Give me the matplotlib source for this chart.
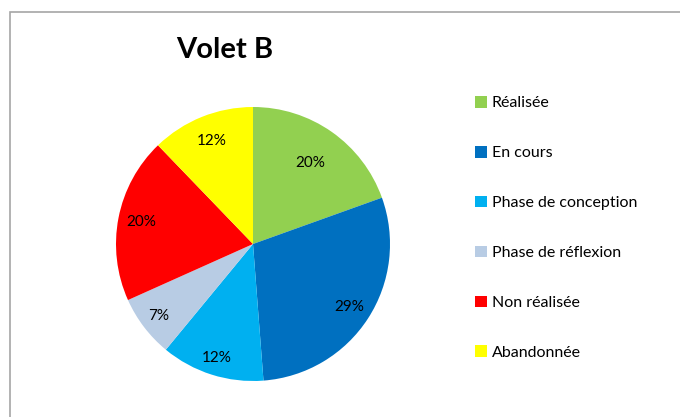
'''
Pie chart of the state of the Volet B projects
'''
import matplotlib
matplotlib.use('Agg')
from matplotlib import pyplot as plt
from matplotlib.patches import Rectangle
import numpy as np

categories = ['Réalisée', 'En cours', 'Phase de conception',
              'Phase de réflexion', 'Non réalisée', 'Abandonnée']
counts = [8, 12, 5, 3, 8, 5]
colors = ['#92D050', '#0070C0', '#00B0F0', '#B8CCE4', '#FF0000', '#FFFF00']
title = 'Volet B'

# distance of each percentage label from the centre (fraction of radius)
lab_dist = [0.72, 0.84, 0.87, 0.87, 0.83, 0.81]

plt.rcParams['font.family'] = ['Lato', 'DejaVu Sans']

W, H = 680, 417
fig = plt.figure(figsize=(W/100, H/100), dpi=100)
fig.patch.set_facecolor('white')

# chart frame (only left and top edges visible)
fig.patches.append(Rectangle((9.5/W, -0.2), 1.0, 1.2 - 12/H,
                             transform=fig.transFigure, fill=False,
                             edgecolor='#A6A6A6', linewidth=1.2))

cx, cy, r = 253, 417 - 244, 137
ax = fig.add_axes([(cx - r)/W, (cy - r)/H, 2*r/W, 2*r/H])
wedges, texts, autotexts = ax.pie(counts, colors=colors, startangle=90,
                                  counterclock=False, autopct='%.0f%%',
                                  textprops={'fontsize': 11, 'color': 'black'})
ax.set_xlim(-1, 1)
ax.set_ylim(-1, 1)
ax.set_aspect('auto')

for w, t, d in zip(wedges, autotexts, lab_dist):
    ang = np.deg2rad((w.theta1 + w.theta2) / 2)
    t.set_position((d*np.cos(ang), d*np.sin(ang)))

fig.text(225/W, 1 - 50/H, title, fontsize=21, fontweight='bold',
         ha='center', va='center')

fig.legend(wedges, categories, loc='upper left',
           bbox_to_anchor=(475/W, 1 - 96/H), frameon=False,
           fontsize=11.5, borderpad=0, borderaxespad=0,
           handlelength=0.75, handleheight=0.75, handletextpad=0.3,
           labelspacing=2.22)

fig.savefig('out.png', dpi=100)
